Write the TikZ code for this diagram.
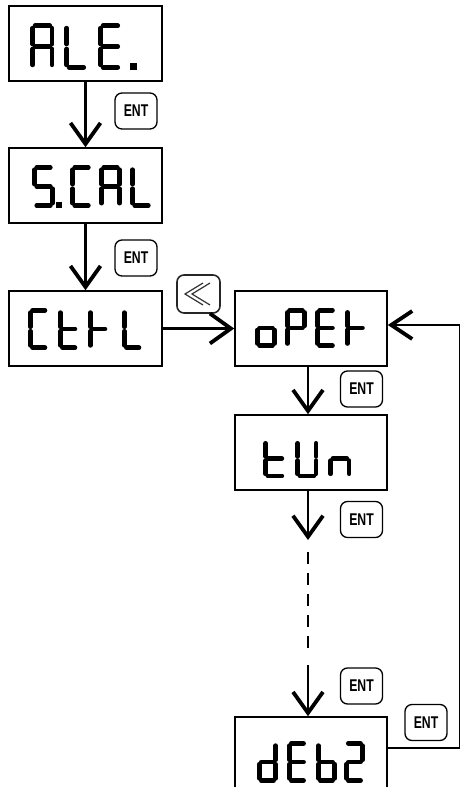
\documentclass[tikz,border=0pt]{standalone}
\usepackage{fontspec}
\newfontfamily\entfont{Liberation Sans}
\usetikzlibrary{arrows.meta}

% Seven-segment character: shift, xscale, yscale, list of lit segments (a..g)
\newcommand\sevenseg[4]{%
  \begin{scope}[shift={#1},xscale=#2,yscale=#3]
    \foreach \s in {#4}{\edef\segcmd{\noexpand\draw[segment,sg \s];}\segcmd}
  \end{scope}}

\tikzset{
  display/.style={draw, line width=1.6pt, minimum width=153pt, minimum height=75pt, inner sep=0pt},
  segment/.style={line width=4.6pt, line cap=round},
  sg a/.style={insert path={(4.5,2.4)--(17.5,2.4)}},
  sg b/.style={insert path={(19.6,4.6)--(19.6,18.8)}},
  sg c/.style={insert path={(19.6,23.2)--(19.6,37.4)}},
  sg d/.style={insert path={(4.5,39.6)--(17.5,39.6)}},
  sg e/.style={insert path={(2.4,23.2)--(2.4,37.4)}},
  sg f/.style={insert path={(2.4,4.6)--(2.4,18.8)}},
  sg g/.style={insert path={(4.5,21)--(17.5,21)}},
  enterkey/.style={draw, rounded corners=7pt, line width=1.3pt, minimum width=42pt,
    minimum height=36pt, inner sep=0pt, font=\entfont\bfseries\fontsize{17}{17}\selectfont},
  flow/.style={line width=2.8pt, -{Straight Barb[length=21pt,width=30pt,line width=3.8pt]}},
  backflow/.style={line width=1.8pt, -{Straight Barb[length=21pt,width=28pt,line width=3.8pt]}},
  skipped/.style={line width=2pt, dash pattern=on 12pt off 9pt},
  chev/.style={line width=1.2pt, black!80, line join=miter},
}

\begin{document}
\begin{tikzpicture}[x=1pt,y=-1pt]
\useasboundingbox (0,0) rectangle (461,787);
\clip (0,0) rectangle (461,787);

% display boxes
\node[display] (ale)  at (85.5,43.5)  {};
\node[display] (scal) at (85.5,185.5) {};
\node[display] (ctrl) at (85.5,328.5) {};
\node[display,minimum width=152pt] (oper) at (311,328.5) {};
\node[display,minimum width=152pt] (tun)  at (311,452.5) {};
\node[display,minimum width=152pt,minimum height=80pt] (deb) at (311,757) {};

% ALE.
\sevenseg{(30,23)}{1.13}{1.12}{a,b,c,e,f,g}
\sevenseg{(64,23)}{1.13}{1.12}{f,e,d}
\sevenseg{(98,23)}{1.13}{1.12}{a,f,g,e,d}
\fill (130,63) rectangle (137,70);

% S.CAL
\sevenseg{(32,165)}{1.05}{1.02}{a,f,g,c,d}
\fill (56,202) rectangle (62,208);
\sevenseg{(70,165)}{1.05}{1.02}{a,f,e,d}
\sevenseg{(99,165)}{1.05}{1.02}{a,b,c,e,f,g}
\sevenseg{(130,165)}{1.05}{1.02}{f,e,d}

% CtrL
\sevenseg{(28,308)}{0.97}{1.0}{a,f,e,d}
\sevenseg{(58,308)}{0.97}{1.0}{f,g,e,d}
\sevenseg{(88,308)}{0.97}{1.0}{f,g,e}
\sevenseg{(122,308)}{0.97}{1.0}{f,e,d}

% oPEt
\sevenseg{(255,308)}{1.0}{0.95}{g,e,c,d}
\sevenseg{(285,308)}{1.0}{0.95}{a,b,f,g,e}
\sevenseg{(315,308)}{1.0}{0.95}{a,f,g,e,d}
\sevenseg{(345,308)}{1.0}{0.95}{f,g,e}

% tUn
\sevenseg{(263,439)}{1.08}{0.93}{f,g,e,d}
\sevenseg{(295,439)}{1.08}{0.93}{f,e,d,c,b}
\sevenseg{(328,439)}{1.08}{0.93}{g,e,c}

% dEb2
\sevenseg{(257,741)}{0.95}{1.0}{b,c,d,e,g}
\sevenseg{(287,741)}{0.95}{1.0}{a,f,g,e,d}
\sevenseg{(316,741)}{0.95}{1.0}{f,e,d,c,g}
\sevenseg{(344,741)}{0.95}{1.0}{a,b,g,e,d}

% key badges
\node[enterkey] (k1) at (136,111)    {\scalebox{0.72}[1]{ENT}};
\node[enterkey] (k2) at (136,258)    {\scalebox{0.72}[1]{ENT}};
\node[enterkey] (k3) at (361.5,389)  {\scalebox{0.72}[1]{ENT}};
\node[enterkey] (k4) at (361.5,519.5){\scalebox{0.72}[1]{ENT}};
\node[enterkey] (k5) at (361.5,686)  {\scalebox{0.72}[1]{ENT}};
\node[enterkey] (k6) at (426,722.5)  {\scalebox{0.72}[1]{ENT}};
\node[enterkey,draw=black!85,line width=1.6pt,minimum width=43pt,minimum height=38pt] (shiftkey) at (198.5,294) {};
\draw[chev] ([shift={(4.5,-11)}]shiftkey.center) -- ([shift={(-13.5,0)}]shiftkey.center) -- ([shift={(4.5,11)}]shiftkey.center);
\draw[chev] ([shift={(11.5,-11)}]shiftkey.center) -- ([shift={(-6.5,0)}]shiftkey.center) -- ([shift={(11.5,11)}]shiftkey.center);

% connectors
\draw[flow] (ale.south) -- (scal.north);
\draw[flow] (scal.south) -- (ctrl.north);
\draw[flow] (ctrl.east) -- (oper.west);
\draw[flow] ([xshift=-3pt]oper.south) -- ([xshift=-3pt]tun.north);

\coordinate (gapTop)  at (308,540);
\coordinate (dashTop) at (308,552);
\coordinate (dashEnd) at (308,650);
\coordinate (resume)  at (308,665);
\draw[flow] ([xshift=-3pt]tun.south) -- (gapTop);
\draw[skipped] (dashTop) -- (dashEnd);
\draw[flow] (resume) -- ([xshift=-3pt]deb.north);

\coordinate (loopCorner) at (459.5,748);
\draw[backflow] (deb.east |- loopCorner) -- (loopCorner) |- ([yshift=3.5pt]oper.east);
\end{tikzpicture}
\end{document}
